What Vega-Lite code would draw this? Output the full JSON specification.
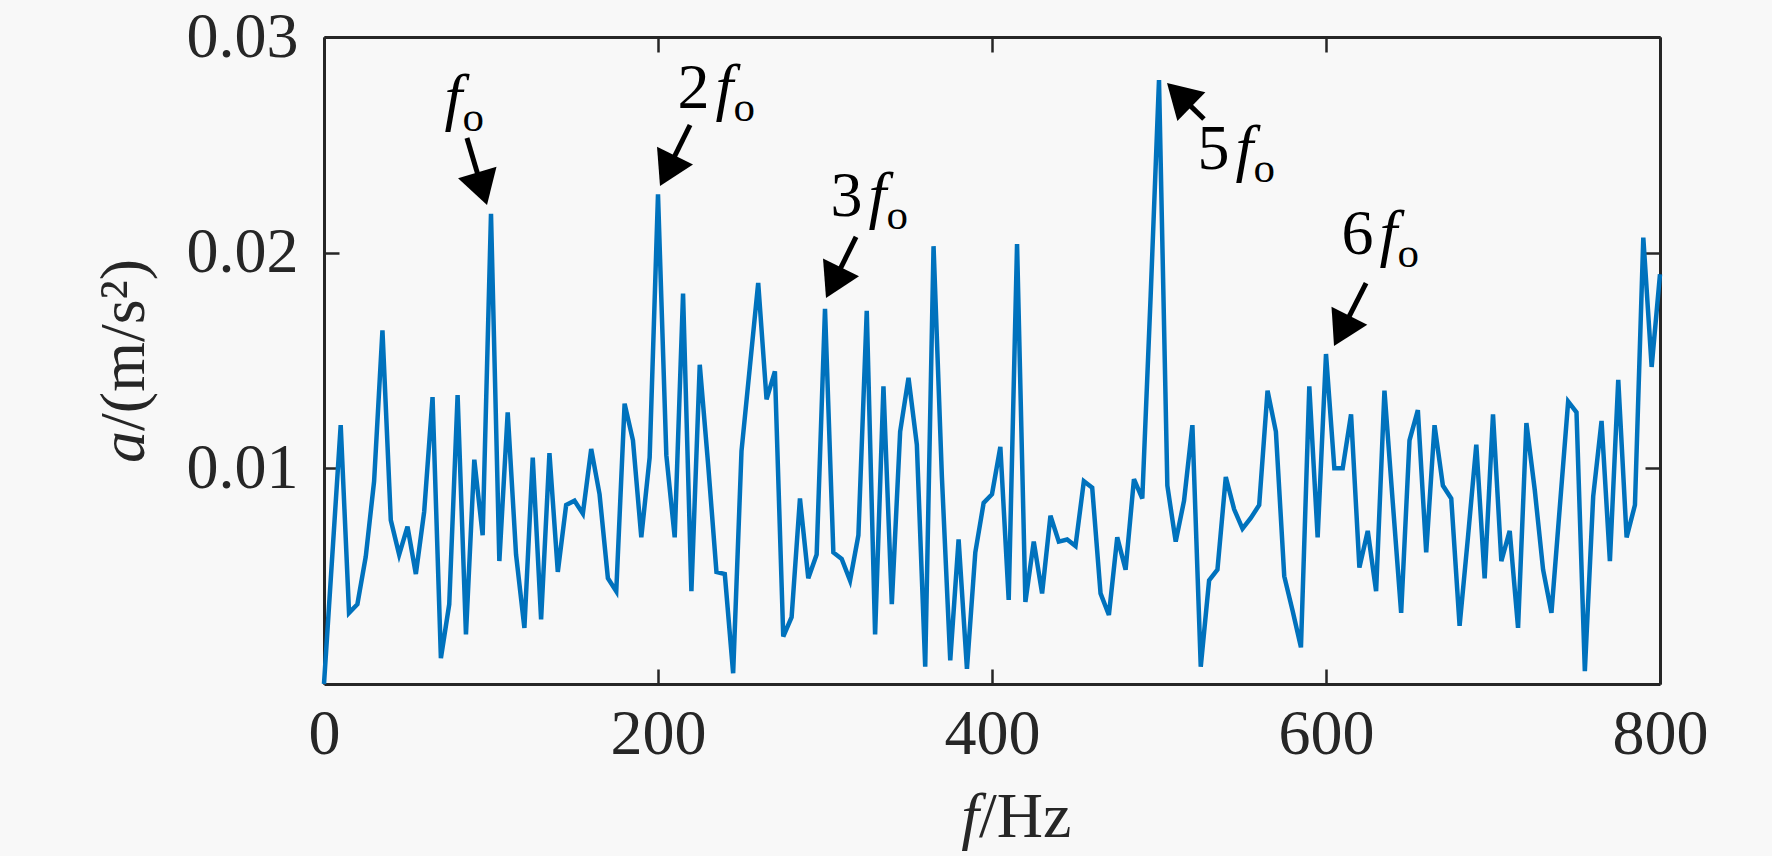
{
  "$schema": "https://vega.github.io/schema/vega-lite/v6.json",
  "width": 1336,
  "height": 647,
  "autosize": {"type": "none"},
  "padding": {"left": 324, "top": 37, "right": 112, "bottom": 172},
  "background": "#f8f8f8",
  "datasets": {
    "spectrum": [
      {"f": 0, "a": 0.0000}, {"f": 5, "a": 0.0060}, {"f": 10, "a": 0.0120}, {"f": 15, "a": 0.0033},
      {"f": 20, "a": 0.0037}, {"f": 25, "a": 0.0059}, {"f": 30, "a": 0.0094}, {"f": 35, "a": 0.0164},
      {"f": 40, "a": 0.0076}, {"f": 45, "a": 0.0060}, {"f": 50, "a": 0.0073}, {"f": 55, "a": 0.0051},
      {"f": 60, "a": 0.0080}, {"f": 65, "a": 0.0133}, {"f": 70, "a": 0.0012}, {"f": 75, "a": 0.0037},
      {"f": 80, "a": 0.0134}, {"f": 85, "a": 0.0023}, {"f": 90, "a": 0.0104}, {"f": 95, "a": 0.0069},
      {"f": 100, "a": 0.0218}, {"f": 105, "a": 0.0057}, {"f": 110, "a": 0.0126}, {"f": 115, "a": 0.0060},
      {"f": 120, "a": 0.0026}, {"f": 125, "a": 0.0105}, {"f": 130, "a": 0.0030}, {"f": 135, "a": 0.0107},
      {"f": 140, "a": 0.0052}, {"f": 145, "a": 0.0083}, {"f": 150, "a": 0.0085}, {"f": 155, "a": 0.0079},
      {"f": 160, "a": 0.0109}, {"f": 165, "a": 0.0088}, {"f": 170, "a": 0.0049}, {"f": 175, "a": 0.0043},
      {"f": 180, "a": 0.0130}, {"f": 185, "a": 0.0113}, {"f": 190, "a": 0.0068}, {"f": 195, "a": 0.0105},
      {"f": 200, "a": 0.0227}, {"f": 205, "a": 0.0106}, {"f": 210, "a": 0.0068}, {"f": 215, "a": 0.0181},
      {"f": 220, "a": 0.0043}, {"f": 225, "a": 0.0148}, {"f": 230, "a": 0.0102}, {"f": 235, "a": 0.0052},
      {"f": 240, "a": 0.0051}, {"f": 245, "a": 0.0005}, {"f": 250, "a": 0.0108}, {"f": 255, "a": 0.0147},
      {"f": 260, "a": 0.0186}, {"f": 265, "a": 0.0132}, {"f": 270, "a": 0.0145}, {"f": 275, "a": 0.0022},
      {"f": 280, "a": 0.0031}, {"f": 285, "a": 0.0086}, {"f": 290, "a": 0.0049}, {"f": 295, "a": 0.0060},
      {"f": 300, "a": 0.0174}, {"f": 305, "a": 0.0061}, {"f": 310, "a": 0.0058}, {"f": 315, "a": 0.0048},
      {"f": 320, "a": 0.0069}, {"f": 325, "a": 0.0173}, {"f": 330, "a": 0.0023}, {"f": 335, "a": 0.0138},
      {"f": 340, "a": 0.0037}, {"f": 345, "a": 0.0117}, {"f": 350, "a": 0.0142}, {"f": 355, "a": 0.0111},
      {"f": 360, "a": 0.0008}, {"f": 365, "a": 0.0203}, {"f": 370, "a": 0.0096}, {"f": 375, "a": 0.0011},
      {"f": 380, "a": 0.0067}, {"f": 385, "a": 0.0007}, {"f": 390, "a": 0.0061}, {"f": 395, "a": 0.0084},
      {"f": 400, "a": 0.0088}, {"f": 405, "a": 0.0110}, {"f": 410, "a": 0.0039}, {"f": 415, "a": 0.0204},
      {"f": 420, "a": 0.0038}, {"f": 425, "a": 0.0066}, {"f": 430, "a": 0.0042}, {"f": 435, "a": 0.0078},
      {"f": 440, "a": 0.0066}, {"f": 445, "a": 0.0067}, {"f": 450, "a": 0.0064}, {"f": 455, "a": 0.0094},
      {"f": 460, "a": 0.0091}, {"f": 465, "a": 0.0042}, {"f": 470, "a": 0.0032}, {"f": 475, "a": 0.0068},
      {"f": 480, "a": 0.0053}, {"f": 485, "a": 0.0095}, {"f": 490, "a": 0.0086}, {"f": 495, "a": 0.0180},
      {"f": 500, "a": 0.0280}, {"f": 505, "a": 0.0092}, {"f": 510, "a": 0.0066}, {"f": 515, "a": 0.0085},
      {"f": 520, "a": 0.0120}, {"f": 525, "a": 0.0008}, {"f": 530, "a": 0.0048}, {"f": 535, "a": 0.0053},
      {"f": 540, "a": 0.0096}, {"f": 545, "a": 0.0081}, {"f": 550, "a": 0.0072}, {"f": 555, "a": 0.0077},
      {"f": 560, "a": 0.0083}, {"f": 565, "a": 0.0136}, {"f": 570, "a": 0.0117}, {"f": 575, "a": 0.0050},
      {"f": 580, "a": 0.0034}, {"f": 585, "a": 0.0017}, {"f": 590, "a": 0.0138}, {"f": 595, "a": 0.0068},
      {"f": 600, "a": 0.0153}, {"f": 605, "a": 0.0100}, {"f": 610, "a": 0.0100}, {"f": 615, "a": 0.0125},
      {"f": 620, "a": 0.0054}, {"f": 625, "a": 0.0071}, {"f": 630, "a": 0.0043}, {"f": 635, "a": 0.0136},
      {"f": 640, "a": 0.0084}, {"f": 645, "a": 0.0033}, {"f": 650, "a": 0.0113}, {"f": 655, "a": 0.0127},
      {"f": 660, "a": 0.0061}, {"f": 665, "a": 0.0120}, {"f": 670, "a": 0.0092}, {"f": 675, "a": 0.0086},
      {"f": 680, "a": 0.0027}, {"f": 685, "a": 0.0068}, {"f": 690, "a": 0.0111}, {"f": 695, "a": 0.0049},
      {"f": 700, "a": 0.0125}, {"f": 705, "a": 0.0057}, {"f": 710, "a": 0.0071}, {"f": 715, "a": 0.0026},
      {"f": 720, "a": 0.0121}, {"f": 725, "a": 0.0090}, {"f": 730, "a": 0.0053}, {"f": 735, "a": 0.0033},
      {"f": 740, "a": 0.0082}, {"f": 745, "a": 0.0131}, {"f": 750, "a": 0.0126}, {"f": 755, "a": 0.0006},
      {"f": 760, "a": 0.0087}, {"f": 765, "a": 0.0122}, {"f": 770, "a": 0.0057}, {"f": 775, "a": 0.0141},
      {"f": 780, "a": 0.0068}, {"f": 785, "a": 0.0083}, {"f": 790, "a": 0.0207}, {"f": 795, "a": 0.0147},
      {"f": 800, "a": 0.0190}
    ],
    "arrows": [
      {"x0": 85.6, "y0": 0.02532, "x1": 92.4, "y1": 0.02355, "xt": 97.6, "yt": 0.02221, "ang": 343.4},
      {"x0": 219.2, "y0": 0.02592, "x1": 209.1, "y1": 0.02434, "xt": 201.2, "yt": 0.02309, "ang": 26.2},
      {"x0": 318.6, "y0": 0.02073, "x1": 308.5, "y1": 0.01915, "xt": 300.6, "yt": 0.01790, "ang": 26.2},
      {"x0": 526.9, "y0": 0.02620, "x1": 517.6, "y1": 0.02690, "xt": 504.8, "yt": 0.02787, "ang": 134.2},
      {"x0": 624.0, "y0": 0.01859, "x1": 612.9, "y1": 0.01690, "xt": 604.8, "yt": 0.01567, "ang": 26.9}
    ],
    "labels": [
      {"pre": "", "fx": 77.5, "fy": 0.02624},
      {"pre": "2", "fx": 239.8, "fy": 0.02671},
      {"pre": "3", "fx": 331.4, "fy": 0.02170},
      {"pre": "5", "fx": 551.2, "fy": 0.02388},
      {"pre": "6", "fx": 637.4, "fy": 0.01994}
    ],
    "xtitle": [{"f": 400, "a": 0}],
    "ytitle": [{"f": 0, "a": 0.01025}]
  },
  "layer": [
    {
      "data": {"name": "spectrum"},
      "mark": {"type": "line", "color": "#0072BD", "strokeWidth": 4.5, "strokeJoin": "miter"},
      "encoding": {
        "x": {
          "field": "f", "type": "quantitative",
          "scale": {"domain": [0, 800], "nice": false, "zero": false},
          "axis": {"orient": "bottom", "values": [0, 200, 400, 600, 800], "format": "d", "title": null,
                   "tickSize": -15, "labelPadding": 33, "labelFlush": false, "labelOverlap": false}
        },
        "y": {
          "field": "a", "type": "quantitative",
          "scale": {"domain": [0, 0.03], "nice": false},
          "axis": {"orient": "left", "values": [0.01, 0.02, 0.03], "format": ".2f", "title": null,
                   "tickSize": -15, "labelPadding": 41, "labelOverlap": false}
        }
      }
    },
    {
      "data": {"name": "arrows"},
      "mark": {"type": "rule", "color": "black", "strokeWidth": 5},
      "encoding": {
        "x": {"field": "x0", "type": "quantitative",
              "axis": {"orient": "top", "values": [0, 200, 400, 600, 800], "labels": false, "title": null, "tickSize": -15}},
        "y": {"field": "y0", "type": "quantitative",
              "axis": {"orient": "right", "values": [0.01, 0.02, 0.03], "labels": false, "title": null, "tickSize": -15}},
        "x2": {"field": "x1"},
        "y2": {"field": "y1"}
      }
    },
    {
      "data": {"name": "arrows"},
      "mark": {"type": "point", "shape": "M0,0L-0.59,-1L0.59,-1Z", "filled": true, "color": "black",
               "opacity": 1, "size": 4624, "strokeWidth": 0},
      "encoding": {
        "x": {"field": "xt", "type": "quantitative", "axis": null},
        "y": {"field": "yt", "type": "quantitative", "axis": null},
        "angle": {"field": "ang", "type": "quantitative", "scale": null}
      }
    },
    {
      "data": {"name": "labels"},
      "mark": {"type": "text", "font": "Liberation Serif", "fontSize": 64, "align": "right",
               "baseline": "alphabetic", "dx": -15, "color": "black"},
      "encoding": {
        "x": {"field": "fx", "type": "quantitative", "axis": null},
        "y": {"field": "fy", "type": "quantitative", "axis": null},
        "text": {"field": "pre"}
      }
    },
    {
      "data": {"name": "labels"},
      "mark": {"type": "text", "font": "Liberation Serif", "fontSize": 64, "fontStyle": "italic",
               "align": "center", "baseline": "alphabetic", "color": "black"},
      "encoding": {
        "x": {"field": "fx", "type": "quantitative", "axis": null},
        "y": {"field": "fy", "type": "quantitative", "axis": null},
        "text": {"value": "f"}
      }
    },
    {
      "data": {"name": "labels"},
      "mark": {"type": "text", "font": "Liberation Serif", "fontSize": 43, "align": "left",
               "baseline": "alphabetic", "dx": 9, "dy": 13, "color": "black"},
      "encoding": {
        "x": {"field": "fx", "type": "quantitative", "axis": null},
        "y": {"field": "fy", "type": "quantitative", "axis": null},
        "text": {"value": "o"}
      }
    },
    {
      "data": {"name": "xtitle"},
      "mark": {"type": "text", "font": "Liberation Serif", "fontSize": 64, "fontStyle": "italic",
               "align": "right", "baseline": "alphabetic", "dx": -13, "dy": 153, "color": "#262626"},
      "encoding": {
        "x": {"field": "f", "type": "quantitative", "axis": null},
        "y": {"field": "a", "type": "quantitative", "axis": null},
        "text": {"value": "f"}
      }
    },
    {
      "data": {"name": "xtitle"},
      "mark": {"type": "text", "font": "Liberation Serif", "fontSize": 64,
               "align": "left", "baseline": "alphabetic", "dx": -13, "dy": 153, "color": "#262626"},
      "encoding": {
        "x": {"field": "f", "type": "quantitative", "axis": null},
        "y": {"field": "a", "type": "quantitative", "axis": null},
        "text": {"value": "/Hz"}
      }
    },
    {
      "data": {"name": "ytitle"},
      "mark": {"type": "text", "font": "Liberation Serif", "fontSize": 64, "fontStyle": "italic", "angle": 270,
               "align": "left", "baseline": "alphabetic", "dx": 0, "dy": -180, "color": "#262626"},
      "encoding": {
        "x": {"field": "f", "type": "quantitative", "axis": null},
        "y": {"field": "a", "type": "quantitative", "axis": null},
        "text": {"value": "a"}
      }
    },
    {
      "data": {"name": "ytitle"},
      "mark": {"type": "text", "font": "Liberation Serif", "fontSize": 64, "angle": 270,
               "align": "left", "baseline": "alphabetic", "dx": 32, "dy": -180, "color": "#262626"},
      "encoding": {
        "x": {"field": "f", "type": "quantitative", "axis": null},
        "y": {"field": "a", "type": "quantitative", "axis": null},
        "text": {"value": "/(m/s²)"}
      }
    }
  ],
  "resolve": {"axis": {"x": "independent", "y": "independent"}},
  "config": {
    "view": {"stroke": null},
    "axis": {
      "grid": false,
      "domainColor": "#262626", "domainWidth": 3,
      "tickColor": "#262626", "tickWidth": 2.5,
      "labelFont": "Liberation Serif", "labelFontSize": 64, "labelColor": "#262626"
    }
  }
}
